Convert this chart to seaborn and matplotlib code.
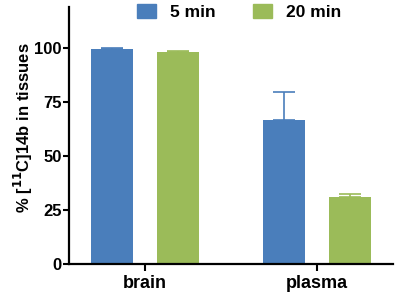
import matplotlib.pyplot as plt
import pandas as pd
import seaborn as sns

tissues = ["brain", "plasma"]
times = ["5 min", "20 min"]
mean_5min = [99.6, 66.8]
mean_20min = [98.4, 31.0]
err_5min = [0.4, 12.8]
err_20min = [0.4, 1.4]
colors = ["#4a7ebb", "#9bbb59"]


def plot_uptake():
    sns.set_style("ticks")
    plt.rcParams["font.family"] = ["Liberation Sans", "DejaVu Sans"]
    plt.rcParams["font.weight"] = "bold"
    plt.rcParams["text.color"] = "black"
    plt.rcParams["axes.labelcolor"] = "black"
    plt.rcParams["xtick.color"] = "black"
    plt.rcParams["ytick.color"] = "black"

    df = pd.DataFrame({
        "tissue": tissues * 2,
        "time": [times[0]] * 2 + [times[1]] * 2,
        "value": mean_5min + mean_20min,
    })

    fig = plt.figure(figsize=(3.98, 2.96), dpi=100)
    ax = fig.add_axes([0.173, 0.107, 0.814, 0.869])
    sns.barplot(
        data=df, x="tissue", y="value", hue="time",
        order=tissues, hue_order=times, palette=colors,
        saturation=1, errorbar=None, width=0.77, gap=0.366,
        linewidth=0, ax=ax,
    )

    # one-sided (upper) error bars on each bar
    for cont, errs, col in zip(ax.containers, [err_5min, err_20min], colors):
        xs = [b.get_x() + b.get_width() / 2 for b in cont]
        ys = [b.get_height() for b in cont]
        ax.errorbar(xs, ys, yerr=[[0] * len(errs), errs], fmt="none",
                    ecolor=col, elinewidth=1.2, capsize=8, capthick=1.2)

    ax.set_ylim(0, 119)
    ax.set_xlim(-0.442, 1.442)
    ax.set_yticks([0, 25, 50, 75, 100])
    ax.set_xlabel("")
    ax.set_ylabel("% [$^{\\mathbf{11}}$C]14b in tissues", fontsize=12,
                  fontweight="bold")
    ax.yaxis.set_label_coords(-0.105, 0.53)
    ax.tick_params(axis="y", labelsize=12, length=4, width=1.5, pad=1)
    ax.tick_params(axis="x", labelsize=13, length=5, width=1.5, pad=3)
    for s in ["left", "bottom"]:
        ax.spines[s].set_linewidth(1.6)
        ax.spines[s].set_color("black")
    sns.despine(ax=ax)

    ax.legend_.remove()
    handles = [plt.Rectangle((0, 0), 1, 1, color=c) for c in colors]
    fig.legend(handles, times, loc="center", bbox_to_anchor=(0.6, 0.958),
               ncol=2, frameon=False, handlelength=1.1,
               handleheight=0.85, columnspacing=2.15, handletextpad=0.8,
               prop={"weight": "bold", "size": 12.5})

    fig.savefig("out.png", dpi=100)


if __name__ == "__main__":
    plot_uptake()
